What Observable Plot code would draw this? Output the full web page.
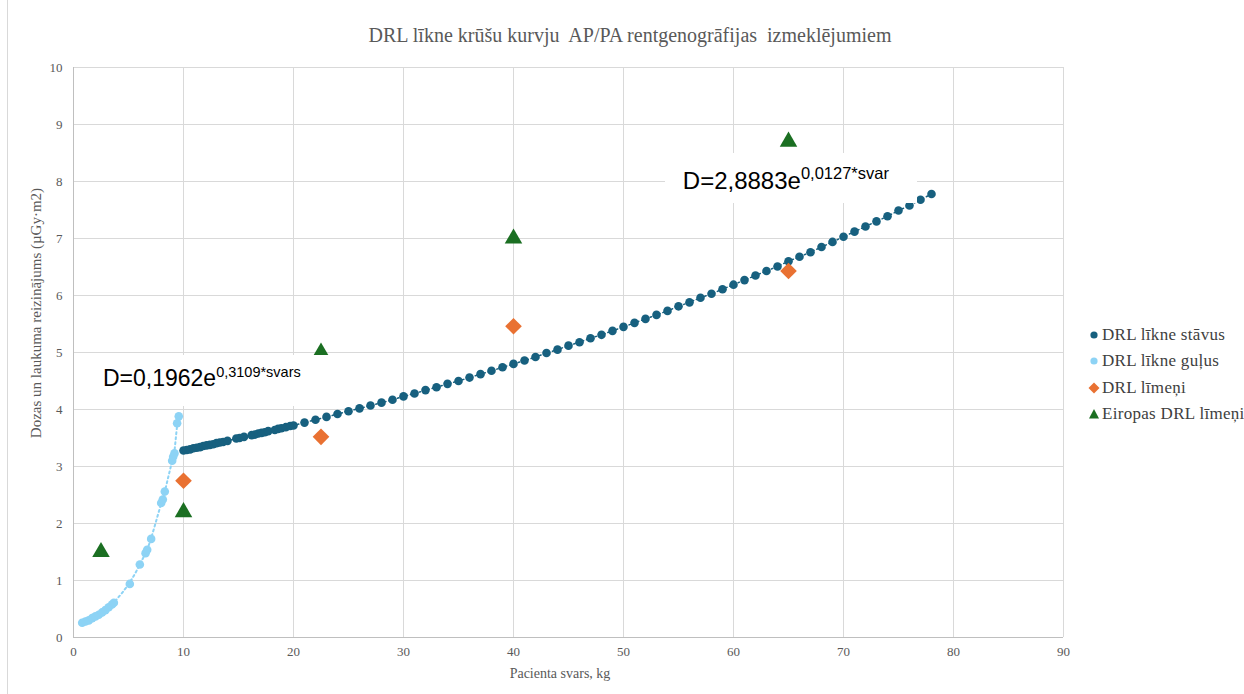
<!DOCTYPE html>
<html>
<head>
<meta charset="utf-8">
<script src="https://cdn.jsdelivr.net/npm/d3@7"></script>
<script src="https://cdn.jsdelivr.net/npm/@observablehq/plot@0.6"></script>
<style>
  html, body { margin: 0; padding: 0; background: #fff; }
  #wrap { position: relative; width: 1244px; height: 694px; overflow: hidden; background: #fff; }
  #title { position: absolute; left: 0; width: 1260px; top: 24px; text-align: center; font-family: "Liberation Serif", serif; font-size: 20px; color: #595959; white-space: pre; }
  #ylab { position: absolute; left: 36px; top: 313px; transform: translate(-50%, -50%) rotate(-90deg); font-family: "Liberation Serif", serif; font-size: 15px; color: #595959; white-space: nowrap; }
  #xlab { position: absolute; left: 560px; top: 666px; transform: translateX(-50%); font-family: "Liberation Serif", serif; font-size: 14px; color: #595959; white-space: nowrap; }
  #legend { position: absolute; left: 1086px; top: 322px; font-family: "Liberation Serif", serif; font-size: 17px; color: #404040; letter-spacing: 0.3px; }
  #legend .item { height: 26.3px; display: flex; align-items: center; white-space: nowrap; }
  #legend svg { width: 16px; height: 16px; margin-right: 0px; }
  .eq { position: absolute; background: #fff; font-family: "Liberation Sans", Arial, sans-serif; color: #000; white-space: nowrap; box-sizing: border-box; }
  .eq span { position: relative; }
  #leftline { position: absolute; left: 7px; top: 0; width: 1px; height: 694px; background: #d9d9d9; }
</style>
</head>
<body>
<div id="wrap">
  <div id="leftline"></div>
  <div id="title">DRL līkne krūšu kurvju  AP/PA rentgenogrāfijas  izmeklējumiem</div>
</div>
<script>
// DRL līkne stāvus (dark blue)
const svarsStavus = [10,10.3,10.6,10.9,11.2,11.5,11.8,12.1,12.4,12.7,13,13.3,13.6,14,14.8,15.1,15.5,16.2,16.5,16.8,17.1,17.4,17.7,18.3,18.6,18.9,19.3,19.7,
  20,21,22,23,24,25,26,27,28,29,30,31,32,33,34,35,36,37,38,39,40,41,42,43,44,45,46,47,48,49,50,51,52,53,54,55,56,57,58,59,60,61,62,63,64,65,66,67,68,69,70,71,72,73,74,75,76,77,78];
const dozaStavus = [3.28,3.29,3.30,3.32,3.33,3.34,3.36,3.37,3.38,3.39,3.41,3.42,3.43,3.45,3.49,3.50,3.52,3.55,3.56,3.58,3.59,3.60,3.62,3.64,3.66,3.67,3.69,3.71,
  3.72,3.77,3.82,3.87,3.92,3.97,4.02,4.07,4.12,4.17,4.23,4.28,4.34,4.39,4.45,4.50,4.56,4.62,4.68,4.74,4.80,4.86,4.92,4.99,5.05,5.12,5.18,5.25,5.31,5.38,5.45,5.52,5.59,5.66,5.73,5.81,5.88,5.96,6.03,6.11,6.19,6.27,6.35,6.43,6.51,6.60,6.68,6.76,6.85,6.94,7.03,7.12,7.21,7.30,7.39,7.49,7.58,7.68,7.78];

// DRL līkne guļus (light blue)
const svarsGulus = [0.79,1.09,1.39,1.7,2.0,2.3,2.6,2.9,3.2,3.5,3.67,5.12,6.03,6.55,6.7,7.06,7.97,8.12,8.3,8.97,9.06,9.18,9.42,9.57];
const dozaGulus  = [0.26,0.28,0.30,0.34,0.37,0.40,0.44,0.48,0.53,0.58,0.61,0.94,1.28,1.48,1.54,1.73,2.36,2.42,2.56,3.10,3.17,3.23,3.76,3.88];

// DRL līmeņi (orange diamonds)
const svarsDRL = [10,22.5,40,65];
const dozaDRL  = [2.75,3.52,5.46,6.43];

// Eiropas DRL līmeņi (green triangles)
const svarsEU = [2.5,10,22.5,40,65];
const dozaEU  = [1.5,2.2,5.0,7.0,8.7];

const xTicks = [0,10,20,30,40,50,60,70,80,90];
const yTicks = [0,1,2,3,4,5,6,7,8,9,10];

const seriesNames = ["DRL līkne stāvus","DRL līkne guļus","DRL līmeņi","Eiropas DRL līmeņi"];
const colors = {dark: "#17607f", light: "#8dd3f5", orange: "#e97132", green: "#1b6f22"};

// equation labels (anchor = top-left corner of white label box, in data units)
const eqX = [2.45, 53.8];
const eqY = [4.95, 8.49];
const eqBase = ["D=0,1962e", "D=2,8883e"];
const eqExp = ["0,3109*svars", "0,0127*svar"];

const zip = (xs, ys) => xs.map((x, i) => ({x, y: ys[i]}));
const stavus = zip(svarsStavus, dozaStavus);
const gulus = zip(svarsGulus, dozaGulus);
const drl = zip(svarsDRL, dozaDRL);
const eu = zip(svarsEU, dozaEU);

const chart = Plot.plot({
  width: 1244,
  height: 694,
  marginTop: 67,
  marginBottom: 57,
  marginLeft: 73,
  marginRight: 181,
  style: {fontFamily: "Liberation Serif, serif", fontSize: "13px", color: "#595959", background: "transparent"},
  x: {domain: [0, 90]},
  y: {domain: [0, 10]},
  marks: [
    Plot.gridX(xTicks, {stroke: "#d9d9d9", strokeOpacity: 1}),
    Plot.gridY(yTicks, {stroke: "#d9d9d9", strokeOpacity: 1}),
    Plot.ruleX([0], {stroke: "#bfbfbf"}),
    Plot.ruleY([0], {stroke: "#bfbfbf"}),
    Plot.axisX({ticks: xTicks, tickSize: 0, tickPadding: 9, label: null}),
    Plot.axisY({ticks: yTicks, tickSize: 0, tickPadding: 11, label: null}),
    Plot.line(stavus, {x: "x", y: "y", stroke: colors.dark, strokeWidth: 1.5, strokeDasharray: "1.5,3"}),
    Plot.line(gulus, {x: "x", y: "y", stroke: colors.light, strokeWidth: 2, strokeDasharray: "2,3", curve: "basis"}),
    Plot.dot(gulus, {x: "x", y: "y", r: 4.3, fill: colors.light}),
    Plot.dot(stavus, {x: "x", y: "y", r: 4.3, fill: colors.dark}),
    Plot.dot(drl, {x: "x", y: "y", r: 7.5, symbol: "diamond2", fill: colors.orange}),
    Plot.dot(eu, {x: "x", y: "y", r: 6.5, symbol: "triangle", fill: colors.green})
  ]
});

const wrap = document.getElementById("wrap");
chart.style.position = "absolute";
chart.style.left = "0px";
chart.style.top = "0px";
wrap.insertBefore(chart, document.getElementById("title"));

const sx = chart.scale("x"), sy = chart.scale("y");
const eqW = [230, 252], eqH = [51, 50], padL = [3, 18], padT = [12, 16];
const eqFont = [23, 24], eqSup = [14.5, 16.5], eqRise = [9, 10];
eqBase.forEach((t, i) => {
  const d = document.createElement("div");
  d.className = "eq";
  d.style.left = sx.apply(eqX[i]) + "px";
  d.style.top = sy.apply(eqY[i]) + "px";
  d.style.width = eqW[i] + "px";
  d.style.height = eqH[i] + "px";
  d.style.paddingLeft = padL[i] + "px";
  d.style.paddingTop = padT[i] + "px";
  d.style.fontSize = eqFont[i] + "px";
  d.style.lineHeight = eqFont[i] + "px";
  d.textContent = t;
  const s = document.createElement("span");
  s.textContent = eqExp[i];
  s.style.fontSize = eqSup[i] + "px";
  s.style.top = (-eqRise[i]) + "px";
  d.appendChild(s);
  wrap.appendChild(d);
});

const ylab = document.createElement("div");
ylab.id = "ylab"; ylab.textContent = "Dozas un laukuma reizinājums (µGy·m2)";
wrap.appendChild(ylab);
const xlab = document.createElement("div");
xlab.id = "xlab"; xlab.textContent = "Pacienta svars, kg";
wrap.appendChild(xlab);

const legend = document.createElement("div");
legend.id = "legend";
const symbols = [
  `<circle cx="8" cy="8" r="3.6" fill="${colors.dark}"/>`,
  `<circle cx="8" cy="8" r="3.6" fill="${colors.light}"/>`,
  `<path d="M8 2.5 L13.5 8 L8 13.5 L2.5 8 Z" fill="${colors.orange}"/>`,
  `<path d="M8 3 L13 12.5 L3 12.5 Z" fill="${colors.green}"/>`
];
seriesNames.forEach((n, i) => {
  const it = document.createElement("div");
  it.className = "item";
  it.innerHTML = `<svg viewBox="0 0 16 16">${symbols[i]}</svg><span>${n}</span>`;
  legend.appendChild(it);
});
wrap.appendChild(legend);
</script>
</body>
</html>
